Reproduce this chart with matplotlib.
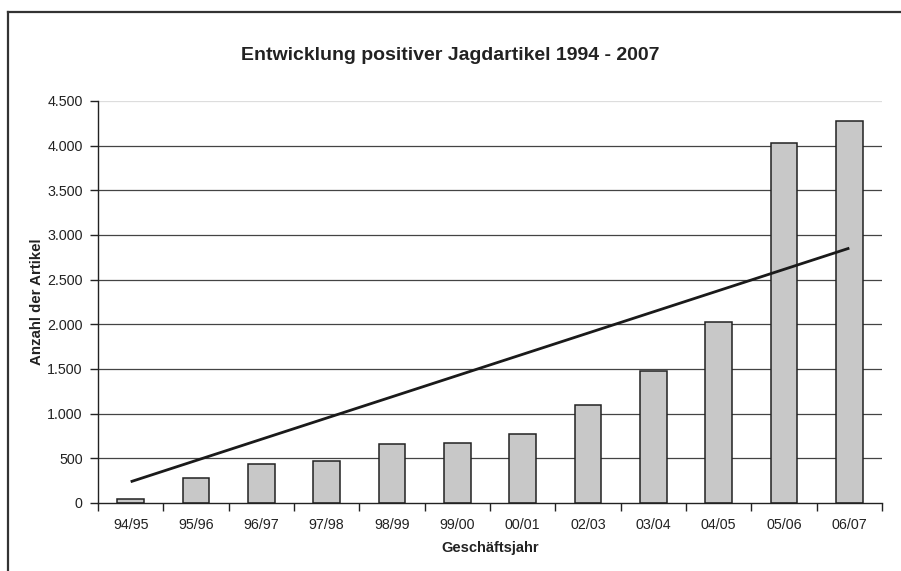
import matplotlib
matplotlib.use("Agg")
import matplotlib.pyplot as plt
from matplotlib.lines import Line2D
import numpy as np

plt.rcParams['font.family'] = ['Liberation Sans', 'DejaVu Sans']

categories = ["94/95", "95/96", "96/97", "97/98", "98/99", "99/00",
              "00/01", "02/03", "03/04", "04/05", "05/06", "06/07"]
values = [45, 283, 437, 467, 657, 667, 769, 1097, 1478, 2026, 4033, 4273]
trend_start_end = [238, 2853]
yticks = [0, 500, 1000, 1500, 2000, 2500, 3000, 3500, 4000, 4500]
ytick_labels = ["0", "500", "1.000", "1.500", "2.000", "2.500", "3.000",
                "3.500", "4.000", "4.500"]
title = "Entwicklung positiver Jagdartikel 1994 - 2007"
xlabel = "Geschäftsjahr"
ylabel = "Anzahl der Artikel"

fig = plt.figure(figsize=(9.01, 5.71), dpi=100)
ax = fig.add_axes([98/901, 68/571, 784/901, 402/571])

x = np.arange(len(categories))
ax.set_xlim(-0.5, len(categories) - 0.5)
ax.set_ylim(0, 4500)

# gridlines
for yv in yticks[1:]:
    col = '#dddddd' if yv == yticks[-1] else '#444444'
    ax.axhline(yv, color=col, lw=0.9, zorder=1)

ax.bar(x, values, width=0.41, color='#c8c8c8', edgecolor='#222222',
       linewidth=1.1, zorder=2)

ax.plot([x[0], x[-1]], trend_start_end, color='#1a1a1a', lw=2.0, zorder=3,
        solid_capstyle='butt')

ax.set_yticks(yticks)
ax.set_yticklabels(ytick_labels, fontsize=10.3, color='#222222')
ax.set_xticks(x)
ax.set_xticklabels(categories, fontsize=10.3, color='#222222')
ax.tick_params(axis='x', length=0, pad=11)
ax.tick_params(axis='y', length=6, width=1, color='#222222', pad=5)
ax.set_xticks(np.arange(-0.5, len(categories)), minor=True)
ax.tick_params(axis='x', which='minor', length=6, width=1, color='#222222')

for s in ['top', 'right']:
    ax.spines[s].set_visible(False)
for s in ['left', 'bottom']:
    ax.spines[s].set_color('#222222')
    ax.spines[s].set_linewidth(1.0)

ax.set_xlabel(xlabel, fontsize=10.5, fontweight='bold', color='#222222', labelpad=6)
ax.set_ylabel(ylabel, fontsize=10.8, fontweight='bold', color='#222222', labelpad=2)

fig.text(0.5, 1 - 55/571, title, ha='center', va='center', fontsize=14,
         fontweight='bold', color='#222222')

# outer frame (top and left edges)
fig.add_artist(Line2D([8/901, 1.0], [1 - 12/571, 1 - 12/571],
                      transform=fig.transFigure, color='#333333', lw=1.6))
fig.add_artist(Line2D([8/901, 8/901], [0, 1 - 12/571],
                      transform=fig.transFigure, color='#333333', lw=1.6))

fig.savefig("out.png", dpi=100)
